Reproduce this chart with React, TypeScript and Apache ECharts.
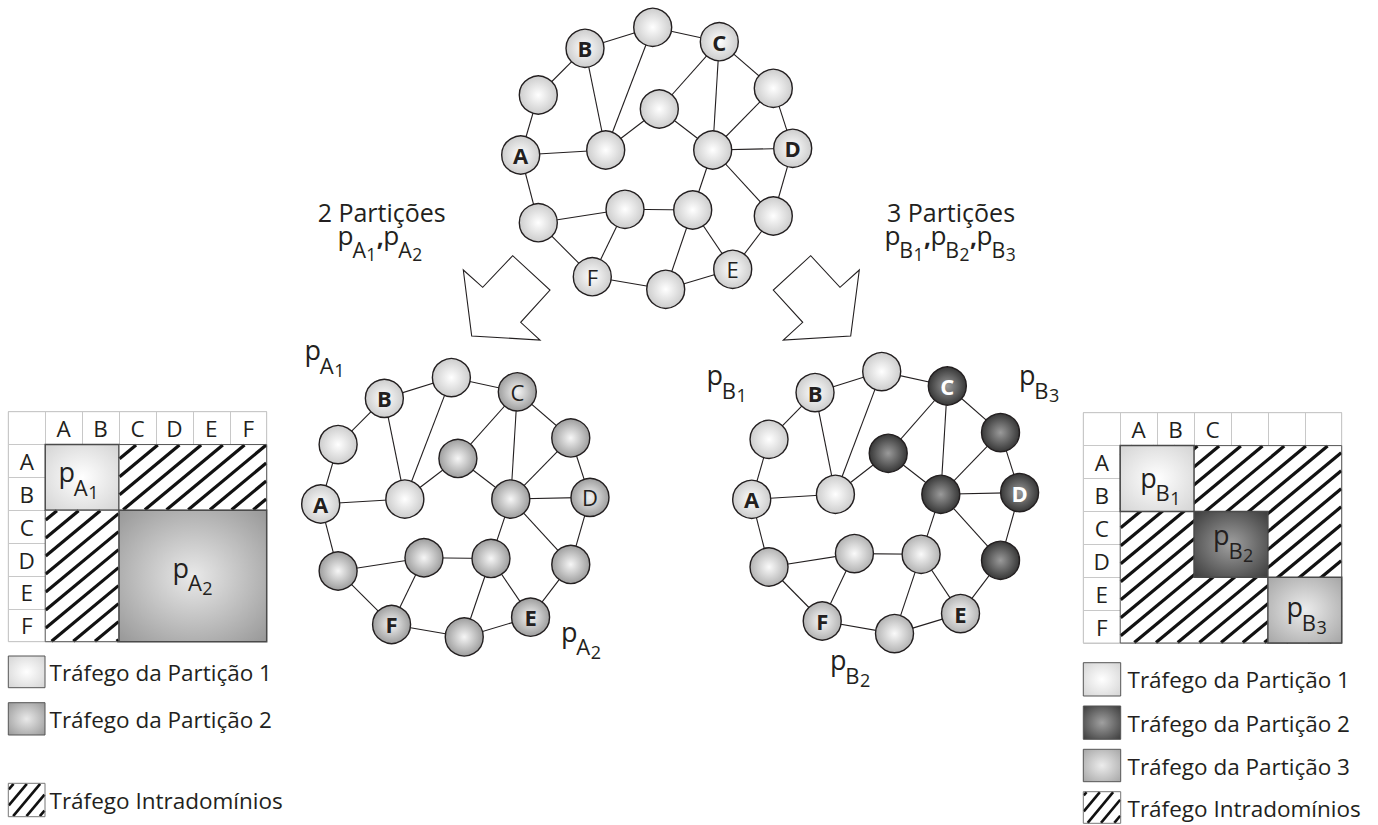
import React, { useEffect, useRef } from 'react';
import * as echarts from 'echarts';

const FONT = '"Open Sans", Lato, sans-serif';
const INK = '#231f20';

// ---------------- data ----------------
// node layout of the network (graph units)
const nodeX = [152.7, 85, 219.3, 38.3, 159.3, 273.3, 20.7, 105.7, 212.7, 292.7, 38.3, 125, 192.7, 273.3, 92.3, 165.7, 232.7];
const nodeY = [22.3, 43.3, 36.7, 90, 104, 83.3, 150, 145, 145, 143.3, 217.7, 204.3, 205, 211, 271.7, 284.3, 264.3];
const nodeLetters = ['', 'B', 'C', '', '', '', 'A', '', '', 'D', '', '', '', '', 'F', '', 'E'];
const edgeList: [number, number][] = [
  [1, 0], [0, 2], [1, 3], [3, 6], [1, 7], [0, 7], [6, 7], [7, 4], [2, 4], [4, 8], [2, 8], [2, 5], [5, 8], [5, 9],
  [8, 9], [9, 13], [8, 13], [8, 12], [6, 10], [10, 11], [10, 14], [11, 14], [11, 12], [12, 15], [12, 16], [13, 16],
  [14, 15], [15, 16],
];
const partitionTop = [1, 1, 1, 1, 1, 1, 1, 1, 1, 1, 1, 1, 1, 1, 1, 1, 1];
const partitionA = [1, 1, 2, 1, 2, 2, 1, 1, 2, 2, 2, 2, 2, 2, 2, 2, 2];
const partitionB = [1, 1, 2, 1, 2, 2, 1, 1, 2, 2, 3, 3, 3, 2, 3, 3, 3];
const boldTop = ['A', 'B', 'C', 'D'];
const boldA = ['A', 'B', 'E', 'F'];
const boldB = ['A', 'B', 'C', 'D', 'E', 'F'];

// matrices
const rowHeaders = ['A', 'B', 'C', 'D', 'E', 'F'];
const leftColHeaders = ['A', 'B', 'C', 'D', 'E', 'F'];
const rightColHeaders = ['A', 'B', 'C', '', '', ''];
const leftBlocks = [[0, 0, 2, 2], [2, 0, 6, 2], [0, 2, 2, 6], [2, 2, 6, 6]];
const leftBlockKinds = ['p1', 'hatch', 'hatch', 'p2'];
const leftBlockNames = [['A', '1'], null, null, ['A', '2']];
const rightBlocks = [[0, 0, 6, 6], [0, 0, 2, 2], [2, 2, 4, 4], [4, 4, 6, 6]];
const rightBlockKinds = ['hatch', 'p1', 'p2', 'p3'];
const rightBlockNames = [null, ['B', '1'], ['B', '2'], ['B', '3']];

const titleLeft = '2 Partições';
const titleRight = '3 Partições';
const seqLeft = [['A', '1'], ['A', '2']];
const seqRight = [['B', '1'], ['B', '2'], ['B', '3']];

const legendLeft = ['Tráfego da Partição 1', 'Tráfego da Partição 2', 'Tráfego Intradomínios'];
const legendRight = ['Tráfego da Partição 1', 'Tráfego da Partição 2', 'Tráfego da Partição 3', 'Tráfego Intradomínios'];

// ---------------- styles / layout ----------------
const nodeFillsTop: Record<number, [string, string]> = { 1: ['#ffffff', '#cdcdcd'] };
const nodeFillsA: Record<number, [string, string]> = { 1: ['#ffffff', '#cdcdcd'], 2: ['#f6f6f6', '#9e9e9e'] };
const nodeFillsB: Record<number, [string, string]> = {
  1: ['#ffffff', '#cdcdcd'], 2: ['#9a9a9a', '#383838'], 3: ['#fafafa', '#b3b3b3'],
};
const blockFillsLeft: Record<string, [string, string]> = { p1: ['#ffffff', '#d4d4d4'], p2: ['#e9e9e9', '#989898'] };
const blockFillsRight: Record<string, [string, string]> = {
  p1: ['#ffffff', '#d4d4d4'], p2: ['#a0a0a0', '#3c3c3c'], p3: ['#ececec', '#a6a6a6'],
};
const leftLabelOffsets = [[-21.6, -9.5], null, null, [-18.3, -12.5]];
const rightLabelOffsets = [null, [-15, -5], [-15.9, -13.5], [-16.4, -7.5]];

const graphGrids = [
  { left: 500, top: 5, width: 320, height: 310 },
  { left: 300.2, top: 355.5, width: 316.8, height: 306.9 },
  { left: 731.3, top: 349.3, width: 315.2, height: 310 },
];
const matrixGrids = [
  { left: 8.3, top: 411.7, width: 258.4, height: 230 },
  { left: 1083.3, top: 412.7, width: 258.4, height: 230.3 },
];

const radial = (c: [string, string], r = 0.5) => ({
  type: 'radial', x: 0.5, y: 0.5, r,
  colorStops: [{ offset: 0, color: c[0] }, { offset: 1, color: c[1] }],
});

let measureCtx: CanvasRenderingContext2D | null = null;
function tw(text: string, font: string) {
  if (!measureCtx) measureCtx = document.createElement('canvas').getContext('2d');
  measureCtx!.font = font;
  return measureCtx!.measureText(text).width;
}

function txt(x: number, y: number, text: string, font: string, fill = INK, align = 'left') {
  return {
    type: 'text', silent: true,
    style: { x, y, text, font, fill, align, verticalAlign: 'middle', textAlign: align, textVerticalAlign: 'middle' },
  };
}

const CEN = 0.388; // central baseline offset (em)

// "p" with letter and digit subscripts; (x, top) = ink left and x-height top of "p"
function pLabelFull(x: number, top: number, letter: string, digit: string, s = 1) {
  const f1 = 27 * s, f2 = 22 * s, f3 = 18 * s;
  const fp = `${f1}px ${FONT}`, fl = `${f2}px ${FONT}`, fd = `${f3}px ${FONT}`;
  const bp = top + 0.535 * f1;
  const bl = top + 27.5 * s;
  const bd = top + 31 * s;
  const x0 = x - 2 * s;
  const xl = x0 + tw('p', fp) - 1.2 * s;
  const xd = xl + tw(letter, fl) + 0.5 * s;
  const end = xd + tw(digit, fd);
  return {
    end, baseline: bp,
    els: [
      txt(x0, bp - CEN * f1, 'p', fp),
      txt(xl, bl - CEN * f2, letter, fl),
      txt(xd, bd - CEN * f3, digit, fd),
    ],
  };
}
const pLabel = (x: number, top: number, letter: string, digit: string, s = 1) => pLabelFull(x, top, letter, digit, s).els;

function pSequence(cx: number, top: number, items: string[][], s: number) {
  const build = (start: number) => {
    const els: any[] = [];
    let x = start;
    items.forEach((it, j) => {
      const r = pLabelFull(x, top, it[0], it[1], s);
      els.push(...r.els);
      x = r.end;
      if (j < items.length - 1) {
        const cf = `bold ${25 * s}px ${FONT}`;
        els.push(txt(x + 0.5, r.baseline + 1 - CEN * 25 * s, ',', cf));
        x += 0.5 + tw(',', cf) + 1.5;
      }
    });
    return { els, end: x };
  };
  const w = build(0).end;
  return build(cx - w / 2).els;
}

function hatchLines(x0: number, y0: number, x1: number, y1: number, k: number, sv: number) {
  const segs: number[][] = [];
  const cStart = Math.ceil((y0 + k * x0) / sv) * sv;
  for (let c = cStart; c < y1 + k * x1; c += sv) {
    const xa = Math.max(x0, (c - y1) / k);
    const xb = Math.min(x1, (c - y0) / k);
    if (xb - xa > 0.5) segs.push([xa, c - k * xa, xb, c - k * xb]);
  }
  return segs;
}

function hatchGroup(x0: number, y0: number, x1: number, y1: number, k: number, sv: number, lw: number, border: string) {
  const children: any[] = [
    { type: 'rect', shape: { x: x0, y: y0, width: x1 - x0, height: y1 - y0 }, style: { fill: '#ffffff' } },
  ];
  hatchLines(x0 + 0.5, y0 + 0.5, x1 - 0.5, y1 - 0.5, k, sv).forEach((s) =>
    children.push({ type: 'line', shape: { x1: s[0], y1: s[1], x2: s[2], y2: s[3] }, style: { stroke: '#111', lineWidth: lw } })
  );
  children.push({
    type: 'rect', shape: { x: x0, y: y0, width: x1 - x0, height: y1 - y0 },
    style: { fill: 'none', stroke: border, lineWidth: 1 },
  });
  return children;
}

function graphSeries(g: number, part: number[], fills: Record<number, [string, string]>, bold: string[], whiteLetters: number[]) {
  return {
    type: 'graph', coordinateSystem: 'cartesian2d', xAxisIndex: g, yAxisIndex: g,
    layout: 'none', symbol: 'circle', symbolSize: 38, silent: true, z: 3,
    emphasis: { disabled: true },
    data: nodeX.map((x, i) => ({
      name: `g${g}n${i}`,
      value: [x, nodeY[i]],
      itemStyle: { color: radial(fills[part[i]]), borderColor: INK, borderWidth: 1.4 },
      label: {
        show: true, position: 'inside',
        formatter: nodeLetters[i],
        color: whiteLetters.includes(part[i]) ? '#ffffff' : INK,
        fontFamily: FONT, fontSize: 22,
        fontWeight: bold.includes(nodeLetters[i]) ? 'bold' : 'normal',
      },
    })),
    links: edgeList.map(([s, t]) => ({ source: s, target: t })),
    lineStyle: { color: INK, width: 1.1, opacity: 1, curveness: 0 },
  };
}

function headerSeries(m: number, colHeads: string[]) {
  const pts: number[][] = [];
  const labels: string[] = [];
  colHeads.forEach((h, i) => { pts.push([i + 1.5, 0.5]); labels.push(h); });
  rowHeaders.forEach((h, i) => { pts.push([0.5, i + 1.5]); labels.push(h); });
  return {
    type: 'custom', coordinateSystem: 'cartesian2d', xAxisIndex: 3 + m, yAxisIndex: 3 + m,
    silent: true, clip: false, z: 2, data: pts,
    renderItem: (params: any, api: any) => {
      const p = api.coord([api.value(0), api.value(1)]);
      return txt(p[0], p[1] + 0.5, labels[params.dataIndex], `22.5px ${FONT}`, INK, 'center');
    },
  };
}

function blockSeries(m: number, blocks: number[][], kinds: string[], names: any[], fills: Record<string, [string, string]>, offs: any[]) {
  return {
    type: 'custom', coordinateSystem: 'cartesian2d', xAxisIndex: 3 + m, yAxisIndex: 3 + m,
    silent: true, clip: false, z: 2,
    data: blocks.map((b) => [b[0] + 1, b[1] + 1, b[2] + 1, b[3] + 1]),
    renderItem: (params: any, api: any) => {
      const i = params.dataIndex;
      const a = api.coord([api.value(0), api.value(1)]);
      const b = api.coord([api.value(2), api.value(3)]);
      const x0 = a[0], y0 = a[1], x1 = b[0], y1 = b[1];
      const kind = kinds[i];
      let children: any[] = [];
      if (kind === 'hatch') {
        children = hatchGroup(x0, y0, x1, y1, 0.83, 18, 3.2, '#555');
      } else {
        children.push({
          type: 'rect', shape: { x: x0, y: y0, width: x1 - x0, height: y1 - y0 },
          style: { fill: new echarts.graphic.RadialGradient(0.5, 0.5, 0.7, [
            { offset: 0, color: fills[kind][0] }, { offset: 1, color: fills[kind][1] }]), stroke: '#4a4a4a', lineWidth: 1.5 },
        });
        const nm = names[i];
        if (nm) {
          const cx = (x0 + x1) / 2, cy = (y0 + y1) / 2;
          children.push(...pLabel(cx + offs[i][0], cy + offs[i][1], nm[0], nm[1]));
        }
      }
      return { type: 'group', children };
    },
  };
}

function legendItems(x: number, ys: number[], hs: number[], w: number, texts: string[], fills: ([string, string] | null)[], tx: number) {
  const els: any[] = [];
  texts.forEach((t, i) => {
    const y = ys[i], h = hs[i];
    if (fills[i]) {
      els.push({
        type: 'rect', silent: true, shape: { x, y, width: w, height: h },
        style: { fill: new echarts.graphic.RadialGradient(0.5, 0.5, 0.7, [
          { offset: 0, color: fills[i]![0] }, { offset: 1, color: fills[i]![1] }]), stroke: '#555', lineWidth: 1 },
      });
    } else {
      els.push({ type: 'group', silent: true, children: hatchGroup(x, y, x + w, y + h, 1.2, 16, 2.6, '#777') });
    }
    els.push(txt(tx, y + h / 2 + 0.5, t, `22.5px ${FONT}`));
  });
  return els;
}

function buildGraphic() {
  const els: any[] = [];
  // arrows
  els.push({
    type: 'polygon', silent: true,
    shape: { points: [[463.3, 270], [471.7, 336], [540, 340], [520.7, 322.3], [550, 290], [512.7, 255.7], [482.7, 287.3]] },
    style: { fill: '#fff', stroke: INK, lineWidth: 1.1 },
  });
  els.push({
    type: 'polygon', silent: true,
    shape: { points: [[859.3, 270], [850.7, 336], [783.3, 340], [802.7, 322.3], [773.3, 290], [810.7, 255.7], [840, 287.3]] },
    style: { fill: '#fff', stroke: INK, lineWidth: 1.1 },
  });
  // titles
  els.push(txt(381.7, 221.2 - CEN * 25, titleLeft, `25px ${FONT}`, INK, 'center'));
  els.push(txt(951, 221.2 - CEN * 25, titleRight, `25px ${FONT}`, INK, 'center'));
  els.push(...pSequence(380.8, 231.2, seqLeft, 0.97));
  els.push(...pSequence(951, 231.2, seqRight, 0.97));
  // graph partition labels
  els.push(...pLabel(306.5, 346, 'A', '1'));
  els.push(...pLabel(563, 627.5, 'B' === 'x' ? 'B' : 'A', '2'));
  els.push(...pLabel(708.5, 371, 'B', '1'));
  els.push(...pLabel(1021, 371, 'B', '3'));
  els.push(...pLabel(832, 656, 'B', '2'));
  // legends
  els.push(...legendItems(8.3, [656, 702.7, 783.3], [31.7, 32.3, 33.4], 36.7, legendLeft,
    [blockFillsLeft.p1, blockFillsLeft.p2, null], 49.5));
  els.push(...legendItems(1083.3, [662.7, 706, 749.3, 791.7], [33.3, 33.3, 32.4, 31.6], 37.4, legendRight,
    [blockFillsRight.p1, blockFillsRight.p2, blockFillsRight.p3, null], 1127.5));
  return els;
}

export default function App() {
  const ref = useRef<HTMLDivElement>(null);
  useEffect(() => {
    if (!ref.current) return;
    const chart = echarts.init(ref.current, undefined, { renderer: 'svg' });
    const grids: any[] = [];
    const xAxes: any[] = [];
    const yAxes: any[] = [];
    graphGrids.forEach((g, i) => {
      grids.push({ ...g, containLabel: false, show: false });
      xAxes.push({ type: 'value', gridIndex: i, min: 0, max: 320, show: false });
      yAxes.push({ type: 'value', gridIndex: i, min: 0, max: 310, inverse: true, show: false });
    });
    matrixGrids.forEach((g, i) => {
      grids.push({ ...g, containLabel: false, show: true, borderColor: '#c8c8c8', borderWidth: 1, backgroundColor: 'transparent' });
      const ax = {
        type: 'value', gridIndex: 3 + i, min: 0, max: 7, interval: 1,
        axisLine: { show: false }, axisTick: { show: false }, axisLabel: { show: false },
        splitLine: { show: true, lineStyle: { color: '#c8c8c8', width: 1 } },
      };
      xAxes.push({ ...ax });
      yAxes.push({ ...ax, inverse: true });
    });
    chart.setOption({
      animation: false,
      backgroundColor: '#ffffff',
      grid: grids,
      xAxis: xAxes,
      yAxis: yAxes,
      series: [
        graphSeries(0, partitionTop, nodeFillsTop, boldTop, []),
        graphSeries(1, partitionA, nodeFillsA, boldA, []),
        graphSeries(2, partitionB, nodeFillsB, boldB, [2]),
        headerSeries(0, leftColHeaders),
        headerSeries(1, rightColHeaders),
        blockSeries(0, leftBlocks, leftBlockKinds, leftBlockNames, blockFillsLeft, leftLabelOffsets),
        blockSeries(1, rightBlocks, rightBlockKinds, rightBlockNames, blockFillsRight, rightLabelOffsets),
      ],
      graphic: { elements: buildGraphic() },
    });
    return () => chart.dispose();
  }, []);
  return <div ref={ref} style={{ position: 'fixed', left: 0, top: 0, width: 1378, height: 825, background: '#fff' }} />;
}
